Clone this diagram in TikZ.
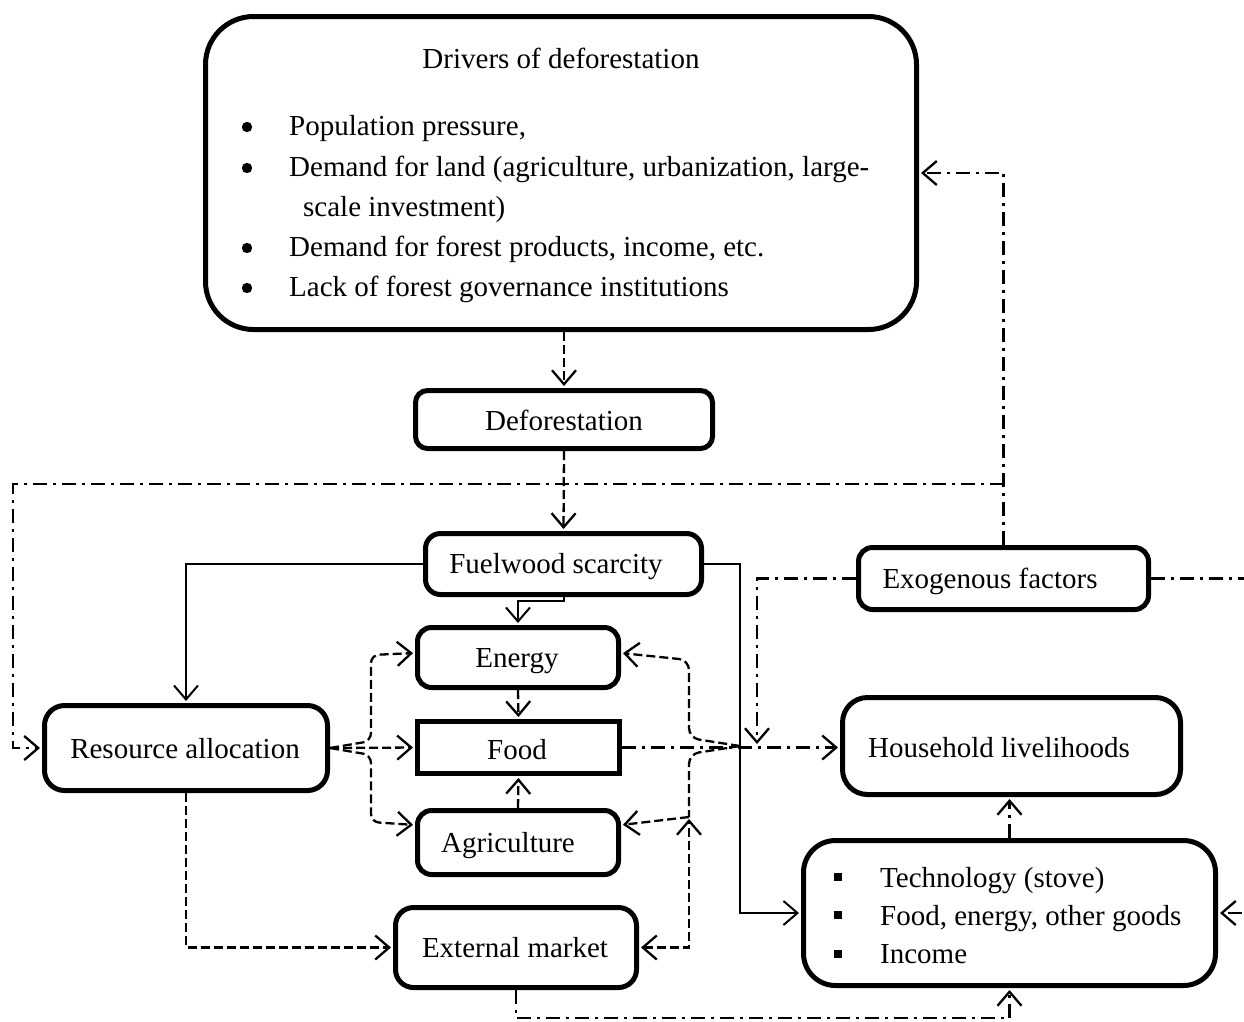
\documentclass[tikz,border=0pt]{standalone}
\usepackage{fontspec}
\setmainfont{Liberation Serif}
\usetikzlibrary{arrows.meta}
\begin{document}
\begin{tikzpicture}[x=1pt,y=-1pt,
  box/.style={draw, line width=5pt, rounded corners=#1, inner sep=0pt},
  box/.default=14pt,
  txt/.style={inner sep=0pt, font=\fontsize{29}{35}\selectfont},
  con/.style={line width=2.3pt},
  dsh/.style={con, dash pattern=on 9pt off 4pt},
  dd/.style={con, dash pattern=on 14pt off 6pt on 3pt off 6pt},
  tip/.style={-{Straight Barb[length=14pt,width=24pt]}, shorten >=2pt},
  tipb/.style={{Straight Barb[length=14pt,width=24pt]}-{Straight Barb[length=14pt,width=24pt]}, shorten >=2pt, shorten <=2pt}
]
\useasboundingbox (0,0) rectangle (1244,1021);
\clip (0,0) rectangle (1244,1021);

% boxes
\node[box=48pt, minimum width=711pt, minimum height=313pt] (drv) at (561,173) {};
\node[box=12pt, minimum width=297pt, minimum height=58pt] (def) at (564,419.5) {};
\node[box=15pt, minimum width=276pt, minimum height=61pt] (fuel) at (563.5,564) {};
\node[box=14pt, minimum width=290pt, minimum height=62pt] (exo) at (1003.5,578.5) {};
\node[box=14pt, minimum width=201pt, minimum height=60pt] (energy) at (518,657.5) {};
\node[draw, line width=5pt, inner sep=0pt, minimum width=202pt, minimum height=52pt] (food) at (518.5,747.5) {};
\node[box=14pt, minimum width=201pt, minimum height=64pt] (agri) at (518,842.5) {};
\node[box=20pt, minimum width=283pt, minimum height=85pt] (res) at (186,748) {};
\node[box=18pt, minimum width=241pt, minimum height=80pt] (ext) at (516,947.5) {};
\node[box=25pt, minimum width=338pt, minimum height=97pt] (hh) at (1011.5,746) {};
\node[box=32pt, minimum width=412pt, minimum height=145pt] (tech) at (1009.5,913) {};

% texts
\node[txt, anchor=base] (drvT) at (561,68) {Drivers of deforestation};
\fill (247,127) circle (5.2pt);
\fill (247,168) circle (5.2pt);
\fill (247,248) circle (5.2pt);
\fill (247,288) circle (5.2pt);
\node[txt, anchor=base west] (d1) at (289,135) {Population pressure,};
\node[txt, anchor=base west] (d2) at (289,176) {Demand for land (agriculture, urbanization, large-};
\node[txt, anchor=base west] (d3) at (303,216) {scale investment)};
\node[txt, anchor=base west] (d4) at (289,256) {Demand for forest products, income, etc.};
\node[txt, anchor=base west] (d5) at (289,296) {Lack of forest governance institutions};

\node[txt, anchor=base] (defT) at (564,430) {Deforestation};
\node[txt, anchor=base] (fuelT) at (556,573) {Fuelwood scarcity};
\node[txt, anchor=base] (exoT) at (990,588) {Exogenous factors};
\node[txt, anchor=base] (energyT) at (517,667) {Energy};
\node[txt, anchor=base] (foodT) at (517,759) {Food};
\node[txt, anchor=base] (agriT) at (508,852) {Agriculture};
\node[txt, anchor=base] (resT) at (185,758) {Resource allocation};
\node[txt, anchor=base] (extT) at (515,957) {External market};
\node[txt, anchor=base west] (hhT) at (868,757) {Household livelihoods};
\fill (834,873) rectangle ++(8,8);
\fill (834,911) rectangle ++(8,8);
\fill (834,950) rectangle ++(8,8);
\node[txt, anchor=base west] (t1) at (880,887) {Technology (stove)};
\node[txt, anchor=base west] (t2) at (880,925) {Food, energy, other goods};
\node[txt, anchor=base west] (t3) at (880,963) {Income};

% dashed vertical chain
\draw[dsh, tip] (def.north |- drv.south) -- (def.north);
\draw[dsh, tip] (def.south) -- (fuel.north);

% dash-dot feedback lines
\coordinate (jn) at (1003.5,484);
\draw[dd, tip] (exo.north) -- (1003.5,173) -- (drv.east |- 0,173);
\draw[dd, tip] (jn) -- (13,484) -- (13,748) -- (res.west);
\coordinate (jfh) at (757,746);
\draw[dd, tip] (exo.west) -- (757,578.5) -- (jfh);
\draw[dd, tip] (exo.east) -- (1290,578.5) -- (1290,913) -- (tech.east);
\draw[dd, tip] (food.east) -- (hh.west |- food.east);
\draw[dd, tip] (ext.south) -- (ext.south |- 0,1018) -| (tech.south);
\draw[dd, tip] (tech.north) -- (tech.north |- hh.south);

% solid lines from fuelwood scarcity
\draw[con, line width=2pt, tip] (fuel.west) -| (res.north);
\draw[con, line width=2pt, tip] (fuel.south) -- (563.5,601) -| (energy.north);
\draw[con, line width=2pt, tip] (fuel.east) -- (740,564) |- (tech.west);

% dashed links among centre boxes
\draw[dsh, tip] (energy.south) -- (food.north);
\draw[dsh, tip] (agri.north) -- (food.south);
\draw[dsh, tip] (res.east) -- (food.west);
\draw[dsh, tip, rounded corners=8pt] (res.east) -- (371,741) -- (371,655) -- ([yshift=4.5pt]energy.west);
\draw[dsh, tip, rounded corners=8pt] (res.east) -- (371,755) -- (371,822) -- ([yshift=17.5pt]agri.west);
\coordinate (jr) at (740,746);
\coordinate (jdn) at (689,817);
\draw[dsh, tip, rounded corners=10pt] (jr) -- (689,738) -- (689,660) -- ([yshift=4.5pt]energy.east);
\draw[dsh, rounded corners=10pt] (jr) -- (689,754) -- (jdn);
\draw[dsh, tip] (jdn) -- ([yshift=17.5pt]agri.east);
\draw[dsh, tipb] (ext.east) -- (689,947.5) -- (jdn);
\draw[dsh, tip] (res.south) |- (ext.west);
\end{tikzpicture}
\end{document}
